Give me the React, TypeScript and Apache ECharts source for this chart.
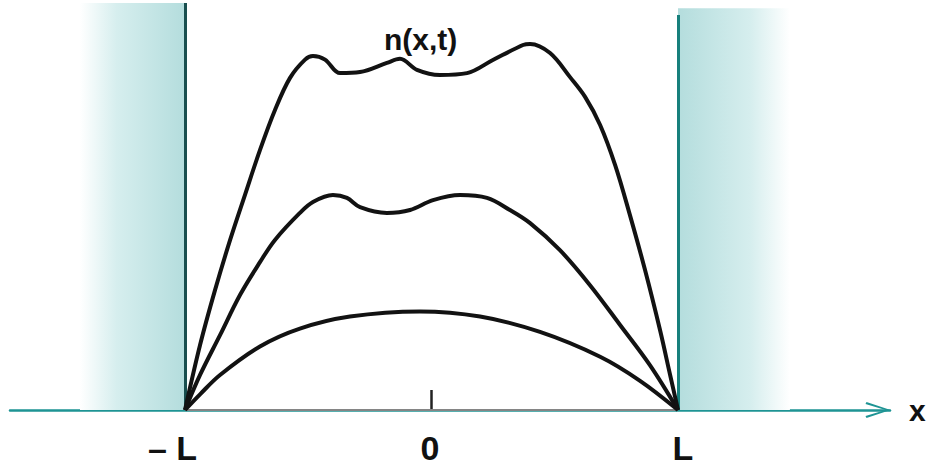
import React, { useEffect, useRef } from "react";
import * as echarts from "echarts";

// x in units where L = 100 (x from -L to L), n(x,t) in arbitrary units
const lowX = [-100, -93.9, -85.8, -69.6, -53.4, -33.1, -4.7, 19.7, 44.0, 68.4, 84.6, 100];
const lowN = [0, 4.3, 9.6, 17.4, 22.3, 25.6, 27.0, 25.6, 21.4, 14.6, 8.0, 0];

const midX = [-100, -93.9, -85.8, -77.7, -69.6, -63.5, -53.4, -48.1, -40.0, -34.3, -29.0, -18.1, -8.7, 0.6, 11.6, 22.5, 31.8, 40.0, 52.1, 64.3, 76.5, 88.6, 100];
const midN = [0, 9.6, 20.5, 31.5, 40.5, 46.6, 54.0, 57.0, 58.9, 58.1, 55.6, 54.0, 54.8, 57.5, 58.9, 58.1, 54.8, 51.2, 43.8, 34.2, 23.3, 12.3, 0];

const topX = [-100, -93.9, -87.8, -81.7, -75.7, -69.6, -63.5, -57.4, -51.3, -48.1, -43.2, -37.1, -29.0, -18.1, -12.8, -5.9, 3.4, 14.4, 24.9, 37.1, 40.0, 48.1, 56.2, 62.3, 68.4, 74.5, 80.5, 86.6, 92.7, 96.8, 100];
const topN = [0, 17.8, 32.9, 46.6, 58.9, 71.2, 82.2, 91.0, 96.0, 97.0, 96.0, 92.3, 92.6, 95.1, 96.2, 93.2, 91.8, 92.3, 95.9, 100, 100.3, 97.8, 91.2, 85.8, 78.1, 67.1, 53.4, 38.4, 21.9, 9.6, 0];

const tickValues = [-100, 0, 100];
const tickLabels = ["– L", "0", "L"];

// walls outside the domain [-L, L]
const leftWall = { from: -142.6, to: -100, top: 111.5 };
const rightWall = { from: 100, to: 145.4, top: 110.1 };
const rightEdgeTop = 108.2;

const FONT = "'Liberation Sans', Arial, sans-serif";

const zip = (xs: number[], ys: number[]) => xs.map((x, i) => [x, ys[i]]);

export default function App() {
  const ref = useRef<HTMLDivElement>(null);
  useEffect(() => {
    if (!ref.current) return;
    const chart = echarts.init(ref.current, null, { renderer: "svg" });
    const curve = (name: string, xs: number[], ys: number[]) => ({
      name,
      type: "line",
      data: zip(xs, ys),
      symbol: "none",
      smooth: 0.35,
      z: 5,
      lineStyle: { color: "#121212", width: 4 },
    });
    const labelStyle = { fontFamily: FONT, fontSize: 34, fontWeight: "bold", color: "#111" };
    chart.setOption({
      animation: false,
      backgroundColor: "#ffffff",
      title: {
        text: "n(x,t)",
        left: 379,
        top: 19,
        textStyle: { fontFamily: FONT, fontSize: 30, fontWeight: "bold", color: "#111" },
      },
      grid: { left: 10, right: 40, top: 0, bottom: 56 },
      xAxis: {
        type: "value",
        min: -171.0,
        max: 186.0,
        splitLine: { show: false },
        name: "x",
        nameLocation: "end",
        nameGap: 19,
        nameTextStyle: { fontFamily: FONT, fontSize: 30, fontWeight: "bold", color: "#111", padding: [5, 0, 0, 0] },
        axisLine: {
          show: true,
          symbol: ["none", "path://M8,0 L16,24 L14,25 L8,5 L2,25 L0,24 Z"],
          symbolSize: [16, 25],
          symbolOffset: [0, -12],
          lineStyle: { color: "#1e9494", width: 2.5 },
        },
        axisTick: {
          show: true,
          inside: true,
          length: 20,
          customValues: [0],
          lineStyle: { color: "#222", width: 2.5 },
        },
        axisLabel: {
          show: true,
          margin: 21,
          customValues: tickValues,
          formatter: (v: number) => {
            const i = tickValues.indexOf(v);
            const t = i >= 0 ? tickLabels[i] : "";
            if (v < 0) return "{l|" + t + "}";
            if (v > 0) return "{r|" + t + "}";
            return "{c|" + t + "}";
          },
          rich: {
            l: { ...labelStyle, padding: [0, 25, 0, 0] },
            c: { ...labelStyle, padding: [0, 3, 0, 0] },
            r: { ...labelStyle, padding: [0, 0, 0, 10] },
          },
        },
      },
      yAxis: {
        type: "value",
        min: 0,
        max: 112.33,
        show: false,
        splitLine: { show: false },
      },
      series: [
        {
          name: "baseline",
          type: "line",
          data: [
            [-100, 0],
            [100, 0],
          ],
          symbol: "none",
          z: 3,
          lineStyle: { color: "#858585", width: 2 },
          markArea: {
            silent: true,
            z: 1,
            data: [
              [
                {
                  xAxis: leftWall.from,
                  yAxis: 0,
                  itemStyle: {
                    color: new echarts.graphic.LinearGradient(0, 0, 1, 0, [
                      { offset: 0, color: "rgba(255,255,255,1)" },
                      { offset: 0.35, color: "#d6eeee" },
                      { offset: 1, color: "#b4dddd" },
                    ]),
                  },
                },
                { xAxis: leftWall.to, yAxis: leftWall.top },
              ],
              [
                {
                  xAxis: rightWall.from,
                  yAxis: 0,
                  itemStyle: {
                    color: new echarts.graphic.LinearGradient(0, 0, 1, 0, [
                      { offset: 0, color: "#b4dddd" },
                      { offset: 0.65, color: "#d6eeee" },
                      { offset: 1, color: "rgba(255,255,255,1)" },
                    ]),
                  },
                },
                { xAxis: rightWall.to, yAxis: rightWall.top },
              ],
            ],
          },
          markLine: {
            silent: true,
            symbol: ["none", "none"],
            label: { show: false },
            z: 4,
            data: [
              [
                { coord: [leftWall.to, 0], lineStyle: { color: "#194f4f", width: 3, type: "solid" } },
                { coord: [leftWall.to, leftWall.top] },
              ],
              [
                { coord: [rightWall.from, 0], lineStyle: { color: "#17807c", width: 3, type: "solid" } },
                { coord: [rightWall.from, rightEdgeTop] },
              ],
            ],
          },
        },
        curve("low", lowX, lowN),
        curve("mid", midX, midN),
        curve("top", topX, topN),
      ],
    });
    return () => chart.dispose();
  }, []);
  return (
    <div
      ref={ref}
      style={{ position: "absolute", left: 0, top: 0, width: 930, height: 466 }}
    />
  );
}
